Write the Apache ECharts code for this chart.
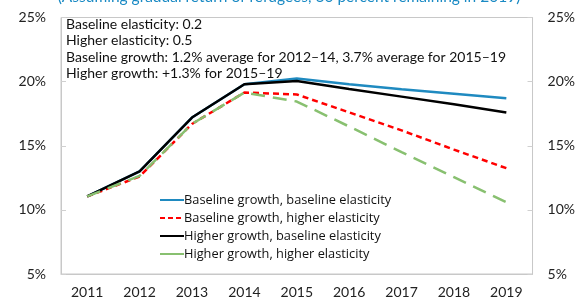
<!DOCTYPE html>
<html><head><meta charset="utf-8">
<script src="https://cdn.jsdelivr.net/npm/echarts@6/dist/echarts.min.js"></script>
<style>html,body{margin:0;padding:0;background:#fff}#c{width:578px;height:299px}</style>
</head><body><div id="c"></div>
<script>
const years = ['2011','2012','2013','2014','2015','2016','2017','2018','2019'];
const baseBase = [11.05, 13.0, 17.2, 19.8, 20.25, 19.8, 19.4, 19.05, 18.7];
const baseHigh = [11.05, 12.6, 16.7, 19.15, 19.0, 17.6, 16.2, 14.7, 13.25];
const highBase = [11.05, 13.0, 17.2, 19.8, 20.05, 19.42, 18.83, 18.23, 17.6];
const highHigh = [11.05, 12.65, 16.7, 19.15, 18.45, 16.5, 14.5, 12.55, 10.6];
const seriesNames = ['Baseline growth, baseline elasticity','Baseline growth, higher elasticity','Higher growth, baseline elasticity','Higher growth, higher elasticity'];
const noteLines = ['Baseline elasticity: 0.2','Higher elasticity: 0.5','Baseline growth: 1.2% average for 2012\u201314, 3.7% average for 2015\u201319','Higher growth: +1.3% for 2015\u201319'];
const subtitle = '(Assuming gradual return of refugees, 30 percent remaining in 2019)';
const yTicks = {min:5, max:25, interval:5};

const FONT = 'Lato';
const chart = echarts.init(document.getElementById('c'), null, {renderer:'canvas'});
const axisY = (pos) => ({
  type:'value', position:pos, min:yTicks.min, max:yTicks.max, interval:yTicks.interval,
  axisLine:{show:true, lineStyle:{color:'#c8c8c8'}},
  axisTick:{show:true, inside:true, length:5, lineStyle:{color:'#d0d0d0'}},
  splitLine:{show:false},
  axisLabel:{formatter:'{value}%', color:'#222', fontFamily:FONT, fontSize:14, margin:15}
});
const mk = (name, data, color, type, z) => ({
  name, type:'line', data, symbol:'none', showSymbol:false, z,
  lineStyle:{color, width:2.5, type}, itemStyle:{color}
});
chart.setOption({
  animation:false,
  grid:{left:61, right:43, top:17.5, bottom:24.5, show:true, borderColor:'#c8c8c8', borderWidth:1, backgroundColor:'transparent'},
  graphic:[
    {type:'text', left:'center', top:-11, style:{text:subtitle, fill:'#1a8ac4', font:'15.5px '+FONT}},
    ...noteLines.map((t,i)=>({type:'text', left:66, top:17+i*16.5, style:{text:t, fill:'#111', font:'14px '+FONT}}))
  ],
  legend:{orient:'vertical', left:154, top:188, itemWidth:24, itemHeight:10, itemGap:4,
    itemStyle:{opacity:0}, lineStyle:{width:2},
    textStyle:{fontFamily:'Open Sans', fontSize:12.8, lineHeight:14, color:'#111', padding:[0,0,0,-5]},
    data:[
      {name:seriesNames[0]},
      {name:seriesNames[1], lineStyle:{type:[5,3]}},
      {name:seriesNames[2]},
      {name:seriesNames[3], lineStyle:{type:'solid'}}
    ]},
  xAxis:{type:'category', data:years, boundaryGap:true,
    axisLine:{lineStyle:{color:'#c8c8c8'}},
    axisTick:{inside:true, length:5, lineStyle:{color:'#d0d0d0'}},
    axisLabel:{color:'#222', fontFamily:FONT, fontSize:14, margin:11}},
  yAxis:[axisY('left'), axisY('right')],
  series:[
    mk(seriesNames[0], baseBase, '#1f8ac0', 'solid', 2),
    mk(seriesNames[1], baseHigh, '#ff0000', [6,4], 3),
    mk(seriesNames[2], highBase, '#000000', 'solid', 4),
    mk(seriesNames[3], highHigh, '#88c070', [14,8], 5)
  ]
});
</script></body></html>
